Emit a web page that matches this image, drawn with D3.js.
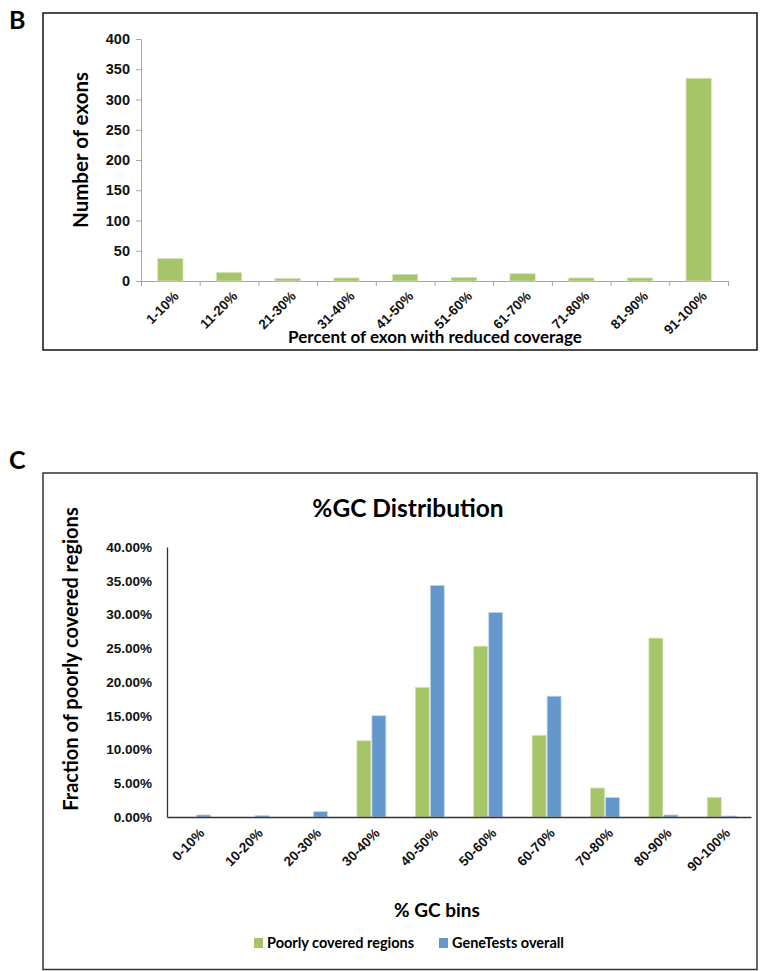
<!DOCTYPE html>
<html lang="en">
<head>
<meta charset="UTF-8">
<title>Exon coverage and %GC distribution</title>
<script src="https://cdn.jsdelivr.net/npm/d3@7"></script>
<style>
  body { margin: 0; background: #fff; }
  svg { display: block; font-family: Lato, "Open Sans", sans-serif; font-weight: bold; }
</style>
</head>
<body>
<svg width="760" height="971"></svg>
<script>
// panel B data
var exonBins = ["1-10%","11-20%","21-30%","31-40%","41-50%","51-60%","61-70%","71-80%","81-90%","91-100%"];
var exonCounts = [37, 14, 4, 5, 11, 6, 12, 5, 5, 335];
var exonTicks = [0, 50, 100, 150, 200, 250, 300, 350, 400];

// panel C data
var gcBins = ["0-10%","10-20%","20-30%","30-40%","40-50%","50-60%","60-70%","70-80%","80-90%","90-100%"];
var seriesNames = ["Poorly covered regions", "GeneTests overall"];
var poorlyCovered = [0, 0, 0, 0.113, 0.192, 0.253, 0.121, 0.043, 0.265, 0.029];
var geneTests = [0.003, 0.002, 0.008, 0.150, 0.343, 0.303, 0.179, 0.029, 0.003, 0.0015];
var gcTicks = [0, 0.05, 0.10, 0.15, 0.20, 0.25, 0.30, 0.35, 0.40];

var green = "#a6c468", blue = "#6497cb";
var svg = d3.select("svg");

// ---------- panel B ----------
var gb = svg.append("g");
gb.append("rect").attr("x", 43).attr("y", 13).attr("width", 714).attr("height", 337)
  .attr("fill", "none").attr("stroke", "#111").attr("stroke-width", 1.5);
gb.append("text").attr("x", 9).attr("y", 29).attr("font-size", 25).text("B");

var yB = d3.scaleLinear().domain([0, 400]).range([281, 39]);
var xB = d3.scaleBand().domain(exonBins).range([141, 728]);
var xBIdx = d3.scaleLinear().domain([0, exonBins.length]).range([141, 728]);

var yAxisB = gb.append("g").attr("transform", "translate(141,0)")
  .call(d3.axisLeft(yB).tickValues(exonTicks).tickSize(5).tickPadding(6));
yAxisB.selectAll("text").attr("font-size", 14.5).attr("fill", "#111").attr("font-family", "inherit");
yAxisB.selectAll("line, path").attr("stroke", "#a6a6a6");

var xAxisB = gb.append("g").attr("transform", "translate(0,281)")
  .call(d3.axisBottom(xBIdx).tickValues(d3.range(exonBins.length + 1)).tickFormat("").tickSize(5));
xAxisB.selectAll("line, path").attr("stroke", "#a6a6a6");

var xLabB = gb.append("g").attr("transform", "translate(0,281)")
  .call(d3.axisBottom(xB).tickSize(0));
xLabB.select("path").remove();
xLabB.selectAll("text")
  .attr("font-size", 13.5).attr("fill", "#111").attr("font-family", "inherit")
  .attr("text-anchor", "end").attr("dy", null)
  .attr("transform", "translate(7,14) rotate(-45)");

var barWB = xB.bandwidth() * 0.43;
gb.selectAll("rect.bar").data(exonCounts).enter().append("rect")
  .attr("class", "bar")
  .attr("x", function(d, i) { return xB(exonBins[i]) + (xB.bandwidth() - barWB) / 2; })
  .attr("y", function(d) { return yB(d); })
  .attr("width", barWB)
  .attr("height", function(d) { return yB(0) - yB(d); })
  .attr("fill", green).attr("stroke", "#d4e2bb").attr("stroke-width", 0.8);

gb.append("text").attr("transform", "translate(88,150) rotate(-90)")
  .attr("text-anchor", "middle").attr("font-size", 20.5).text("Number of exons");
gb.append("text").attr("x", 435).attr("y", 343)
  .attr("text-anchor", "middle").attr("font-size", 17).text("Percent of exon with reduced coverage");

// ---------- panel C ----------
var gc = svg.append("g");
gc.append("rect").attr("x", 43).attr("y", 473).attr("width", 714).attr("height", 496.5)
  .attr("fill", "none").attr("stroke", "#333").attr("stroke-width", 1.5);
gc.append("text").attr("x", 9).attr("y", 469).attr("font-size", 25).text("C");
gc.append("text").attr("x", 408).attr("y", 517).attr("text-anchor", "middle")
  .attr("font-size", 24.5).text("%GC Distribution");

var yC = d3.scaleLinear().domain([0, 0.4]).range([817, 547]);
var x0 = d3.scaleBand().domain(gcBins).range([167, 751]);
var x1 = d3.scaleBand().domain(seriesNames).range([0, x0.bandwidth()])
  .paddingInner(0.07).paddingOuter(0.98);

var yAxisC = gc.append("g").attr("transform", "translate(167,0)")
  .call(d3.axisLeft(yC).tickValues(gcTicks).tickFormat(d3.format(".2%")).tickSize(0).tickPadding(15));
yAxisC.selectAll("text").attr("font-size", 13.5).attr("fill", "#111").attr("font-family", "inherit");
yAxisC.select("path").attr("stroke", "#333").attr("stroke-width", 1.3);

var gcValues = [poorlyCovered, geneTests];
var colors = [green, blue];
var strokes = ["#d4e2bb", "#c3d6ec"];
seriesNames.forEach(function(name, s) {
  gc.selectAll("rect.s" + s).data(gcValues[s]).enter().append("rect")
    .attr("class", "s" + s)
    .attr("x", function(d, i) { return x0(gcBins[i]) + x1(name); })
    .attr("y", function(d) { return yC(d); })
    .attr("width", x1.bandwidth())
    .attr("height", function(d) { return yC(0) - yC(d); })
    .attr("fill", colors[s]).attr("stroke", strokes[s]).attr("stroke-width", 0.8);
});

var xAxisC = gc.append("g").attr("transform", "translate(0,817)")
  .call(d3.axisBottom(x0).tickSize(0));
xAxisC.select("path").attr("stroke", "#333").attr("stroke-width", 1.3);
xAxisC.selectAll("text")
  .attr("font-size", 13.5).attr("fill", "#111").attr("font-family", "inherit")
  .attr("text-anchor", "end").attr("dy", null)
  .attr("transform", "translate(7,15) rotate(-45)");

gc.append("text").attr("transform", "translate(78,659) rotate(-90)")
  .attr("text-anchor", "middle").attr("font-size", 20).text("Fraction of poorly covered regions");
gc.append("text").attr("x", 437).attr("y", 917).attr("text-anchor", "middle")
  .attr("font-size", 19).text("% GC bins");

// legend
var legX = [254, 439];
seriesNames.forEach(function(name, s) {
  gc.append("rect").attr("x", legX[s]).attr("y", 938).attr("width", 9).attr("height", 10)
    .attr("fill", colors[s]);
  gc.append("text").attr("x", legX[s] + 13).attr("y", 948).attr("font-size", 14.5).text(name);
});
</script>
</body>
</html>
